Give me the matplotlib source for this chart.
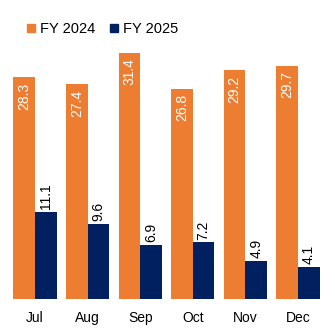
import numpy as np
import matplotlib.pyplot as plt
from matplotlib.lines import Line2D

plt.rcParams['font.family'] = ['Liberation Sans', 'DejaVu Sans']

months = ['Jul', 'Aug', 'Sep', 'Oct', 'Nov', 'Dec']
fy2024 = [28.3, 27.4, 31.4, 26.8, 29.2, 29.7]
fy2025 = [11.1, 9.6, 6.9, 7.2, 4.9, 4.1]

orange = '#ED7D31'
navy = '#002060'

fig = plt.figure(figsize=(3.35, 3.32), dpi=100)
ax = fig.add_axes([0.026, 0.0994, 0.942, 0.78])

x = np.arange(len(months))
w = 0.41
ax.bar(x - w / 2, fy2024, w, color=orange)
ax.bar(x + w / 2, fy2025, w, color=navy)

# value labels: white inside the orange bars, black above the navy ones
for xi, v in zip(x, fy2024):
    ax.annotate(f'{v:.1f}', (xi - w / 2, v), xytext=(0, -4), textcoords='offset points',
                rotation=90, ha='center', va='top', color='white', fontsize=10)
for xi, v in zip(x, fy2025):
    ax.annotate(f'{v:.1f}', (xi + w / 2, v), xytext=(0, 2), textcoords='offset points',
                rotation=90, ha='center', va='bottom', color='black', fontsize=10)

ax.set_xlim(-0.5, 5.5)
ax.set_ylim(0, 33)
ax.set_xticks(x)
ax.set_xticklabels(months, fontsize=10)
ax.tick_params(axis='x', length=0, pad=9)
ax.set_yticks([])
for s in ax.spines.values():
    s.set_visible(False)

handles = [Line2D([], [], marker='s', color=orange, linestyle='none', markersize=6),
           Line2D([], [], marker='s', color=navy, linestyle='none', markersize=6)]
fig.legend(handles, ['FY 2024', 'FY 2025'], loc='center left', bbox_to_anchor=(0.08, 0.913),
           ncol=2, frameon=False, fontsize=10.5, handlelength=0.6, handletextpad=0.3,
           columnspacing=1.0, borderaxespad=0, borderpad=0)

fig.savefig('out.png', dpi=100)
